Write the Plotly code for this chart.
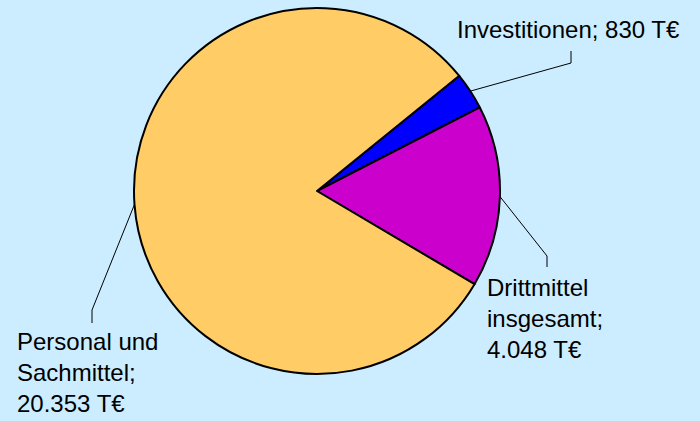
import math
import plotly.graph_objects as go

# Data
labels = ["Investitionen", "Drittmittel insgesamt", "Personal und Sachmittel"]
values = [830, 4048, 20353]
colors = ["#0000FF", "#CC00CC", "#FFCC66"]
label_lines = [["Investitionen;"], ["Drittmittel", "insgesamt;"], ["Personal und", "Sachmittel;"]]

W, H = 700, 421
CX, CY, R = 317, 191, 183
ROT = 51  # degrees clockwise from 12 o'clock


def de_num(v):
    return f"{v:,}".replace(",", ".")


def px(x):
    return x / W


def py(y):
    return 1 - y / H


fig = go.Figure(go.Pie(
    labels=labels, values=values, sort=False, direction="clockwise", rotation=ROT,
    marker=dict(colors=colors, line=dict(color="black", width=2)),
    textinfo="none", hoverinfo="label+value", showlegend=False,
    domain=dict(x=[px(CX - R), px(CX + R)], y=[py(CY + R), py(CY - R)]),
))

# leader lines from slice midpoints (computed from data) to label elbows
total = sum(values)
elbows = [[(571, 63), (571, 51)], [(547, 256), (547, 267)], [(92, 310), (92, 323)]]
cum = 0
for v, el in zip(values, elbows):
    mid = math.radians(ROT + (cum + v / 2) / total * 360)
    cum += v
    sx = CX + R * math.sin(mid)
    sy = CY - R * math.cos(mid)
    pts = [(sx, sy)] + el
    path = "M " + " L ".join(f"{px(x)},{py(y)}" for x, y in pts)
    fig.add_shape(type="path", path=path, xref="paper", yref="paper",
                  line=dict(color="black", width=1))

font = dict(family="Liberation Sans, Arial, sans-serif", size=24, color="black")
texts = [
    label_lines[0][0] + " " + de_num(values[0]) + " T€",
    "<br>".join(label_lines[1] + [de_num(values[1]) + " T€"]),
    "<br>".join(label_lines[2] + [de_num(values[2]) + " T€"]),
]
anchors = [(456, 15), (486, 273), (16, 327)]
for t, (ax, ay) in zip(texts, anchors):
    fig.add_annotation(text=t, x=px(ax), y=py(ay), xref="paper", yref="paper",
                       xanchor="left", yanchor="top", align="left", showarrow=False,
                       font=font, borderpad=0)

fig.update_layout(width=W, height=H, margin=dict(l=0, r=0, t=0, b=0),
                  paper_bgcolor="#CCECFF", plot_bgcolor="#CCECFF")
fig.write_html("out.html")
